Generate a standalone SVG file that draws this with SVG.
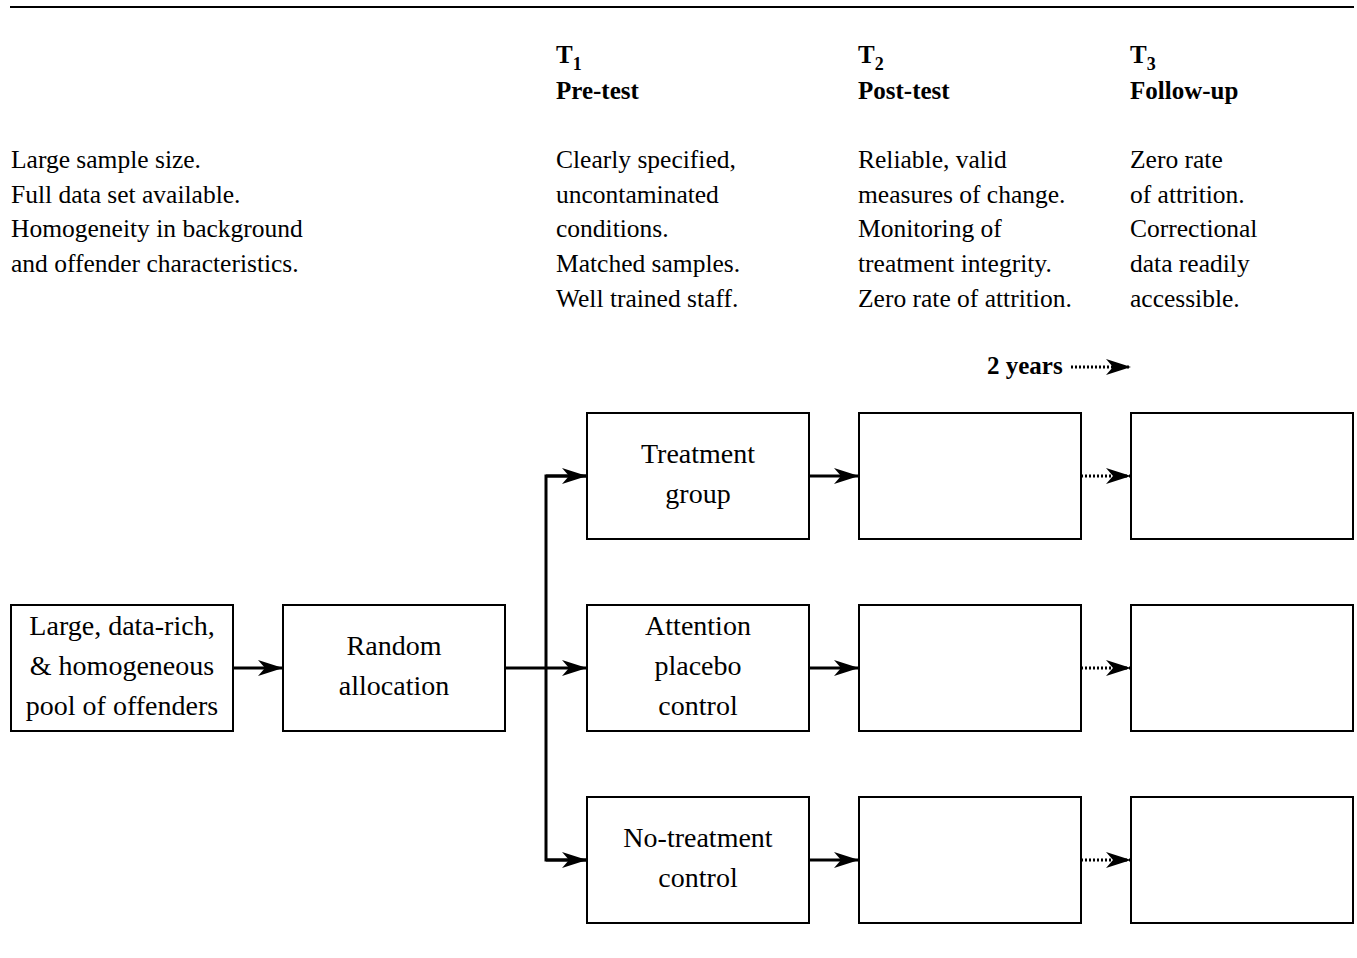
<svg xmlns="http://www.w3.org/2000/svg" width="1357" height="958" viewBox="0 0 1357 958">
<style>
.t{font-family:"Liberation Serif",serif;font-size:25.5px;fill:#000}
.h{font-family:"Liberation Serif",serif;font-size:25px;font-weight:bold;fill:#000}
.b{font-family:"Liberation Serif",serif;font-size:28px;fill:#000;text-anchor:middle}
.box{fill:#fff;stroke:#000;stroke-width:2}
.ln{fill:none;stroke:#000;stroke-width:3}
.dot{fill:none;stroke:#000;stroke-width:3;stroke-dasharray:2 2}
</style>
<defs>
<marker id="ah" markerUnits="userSpaceOnUse" markerWidth="26" markerHeight="16" refX="25" refY="8" orient="auto">
<path d="M0,0 L25,8 L0,16 L7,8 z" fill="#000"/>
</marker>
</defs>
<line x1="10" y1="7" x2="1354" y2="7" stroke="#000" stroke-width="2"/>
<g id="intro">
<text class="t" x="11" y="168">Large sample size.</text>
<text class="t" x="11" y="203">Full data set available.</text>
<text class="t" x="11" y="237">Homogeneity in background</text>
<text class="t" x="11" y="272">and offender characteristics.</text>
</g>
<g id="t1">
<text class="h" x="556" y="63">T<tspan font-size="18" dy="7">1</tspan></text>
<text class="h" x="556" y="99">Pre-test</text>
<text class="t" x="556" y="168">Clearly specified,</text>
<text class="t" x="556" y="203">uncontaminated</text>
<text class="t" x="556" y="237">conditions.</text>
<text class="t" x="556" y="272">Matched samples.</text>
<text class="t" x="556" y="307">Well trained staff.</text>
</g>
<g id="t2">
<text class="h" x="858" y="63">T<tspan font-size="18" dy="7">2</tspan></text>
<text class="h" x="858" y="99">Post-test</text>
<text class="t" x="858" y="168">Reliable, valid</text>
<text class="t" x="858" y="203">measures of change.</text>
<text class="t" x="858" y="237">Monitoring of</text>
<text class="t" x="858" y="272">treatment integrity.</text>
<text class="t" x="858" y="307">Zero rate of attrition.</text>
</g>
<g id="t3">
<text class="h" x="1130" y="63">T<tspan font-size="18" dy="7">3</tspan></text>
<text class="h" x="1130" y="99">Follow-up</text>
<text class="t" x="1130" y="168">Zero rate</text>
<text class="t" x="1130" y="203">of attrition.</text>
<text class="t" x="1130" y="237">Correctional</text>
<text class="t" x="1130" y="272">data readily</text>
<text class="t" x="1130" y="307">accessible.</text>
</g>
<g id="years">
<text class="h" x="987" y="374">2 years</text>
<line class="dot" x1="1071" y1="367" x2="1131" y2="367" marker-end="url(#ah)"/>
</g>
<g id="connectors">
<line class="ln" x1="233" y1="668" x2="283" y2="668" marker-end="url(#ah)"/>
<line class="ln" x1="505" y1="668" x2="587" y2="668" marker-end="url(#ah)"/>
<polyline class="ln" points="587,476 546,476 546,860 587,860"/>
<line class="ln" x1="546" y1="476" x2="587" y2="476" marker-end="url(#ah)"/>
<line class="ln" x1="546" y1="860" x2="587" y2="860" marker-end="url(#ah)"/>
<line class="ln" x1="809" y1="476" x2="859" y2="476" marker-end="url(#ah)"/>
<line class="ln" x1="809" y1="668" x2="859" y2="668" marker-end="url(#ah)"/>
<line class="ln" x1="809" y1="860" x2="859" y2="860" marker-end="url(#ah)"/>
<line class="dot" x1="1081" y1="476" x2="1131" y2="476" marker-end="url(#ah)"/>
<line class="dot" x1="1081" y1="668" x2="1131" y2="668" marker-end="url(#ah)"/>
<line class="dot" x1="1081" y1="860" x2="1131" y2="860" marker-end="url(#ah)"/>
</g>
<g id="pool">
<rect class="box" x="11" y="605" width="222" height="126"/>
<text class="b" x="122" y="635">Large, data-rich,</text>
<text class="b" x="122" y="675">&amp; homogeneous</text>
<text class="b" x="122" y="715">pool of offenders</text>
</g>
<g id="random">
<rect class="box" x="283" y="605" width="222" height="126"/>
<text class="b" x="394" y="655">Random</text>
<text class="b" x="394" y="695">allocation</text>
</g>
<g id="treatment">
<rect class="box" x="587" y="413" width="222" height="126"/>
<text class="b" x="698" y="463">Treatment</text>
<text class="b" x="698" y="503">group</text>
</g>
<g id="placebo">
<rect class="box" x="587" y="605" width="222" height="126"/>
<text class="b" x="698" y="635">Attention</text>
<text class="b" x="698" y="675">placebo</text>
<text class="b" x="698" y="715">control</text>
</g>
<g id="notreatment">
<rect class="box" x="587" y="797" width="222" height="126"/>
<text class="b" x="698" y="847">No-treatment</text>
<text class="b" x="698" y="887">control</text>
</g>
<g id="post1"><rect class="box" x="859" y="413" width="222" height="126"/></g>
<g id="post2"><rect class="box" x="859" y="605" width="222" height="126"/></g>
<g id="post3"><rect class="box" x="859" y="797" width="222" height="126"/></g>
<g id="follow1"><rect class="box" x="1131" y="413" width="222" height="126"/></g>
<g id="follow2"><rect class="box" x="1131" y="605" width="222" height="126"/></g>
<g id="follow3"><rect class="box" x="1131" y="797" width="222" height="126"/></g>
</svg>
